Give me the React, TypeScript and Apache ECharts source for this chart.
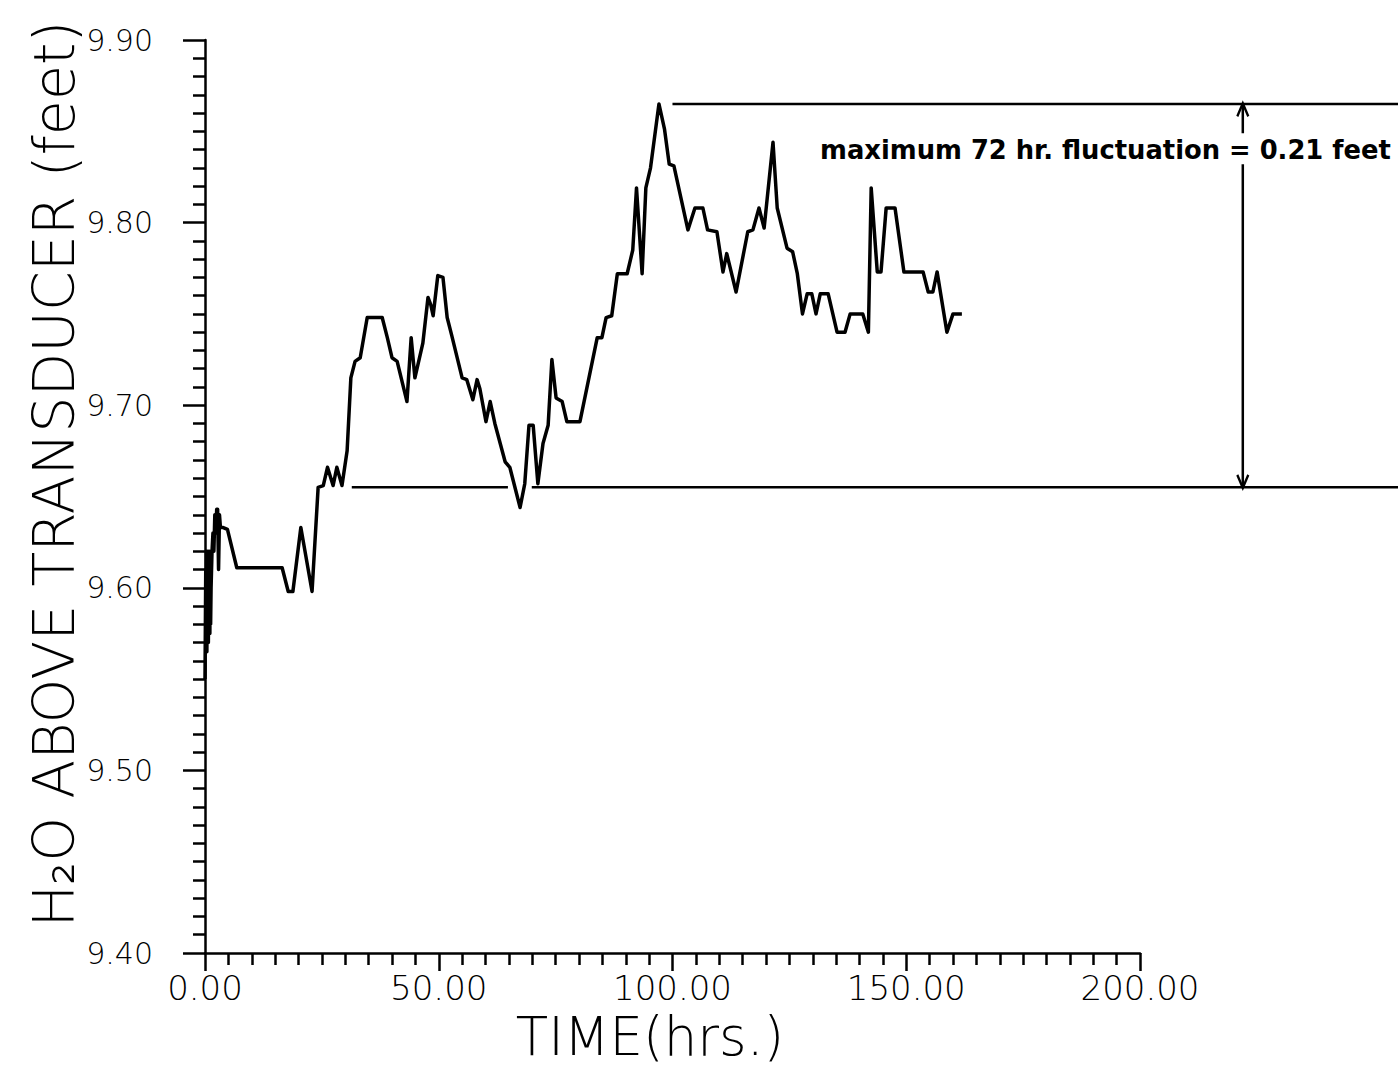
import React, { useEffect, useRef } from "react";
import * as echarts from "echarts";

// Elapsed time since start of record (hours)
const hours = [
  0.0, 0.08, 0.16, 0.24, 0.32, 0.4, 0.48, 0.56, 0.64, 0.72, 0.8, 0.88, 0.96,
  1.04, 1.12, 1.2, 1.3, 1.5, 1.7, 1.9, 2.1, 2.3, 2.5, 2.7, 2.9, 3.1, 3.3, 3.9,
  4.8, 6.8, 16.5, 17.8, 18.8, 20.5, 22.9, 24.2, 25.3, 26.2, 27.4, 28.2, 29.3,
  30.4, 31.2, 32.1, 33.2, 34.7, 37.9, 39.0, 40.0, 41.1, 43.2, 44.1, 44.9, 46.6,
  47.7, 48.3, 48.8, 49.8, 50.9, 51.8, 52.8, 55.0, 56.0, 57.3, 58.2, 58.8, 60.1,
  61.0, 62.0, 64.2, 65.2, 67.4, 68.4, 69.3, 70.2, 71.2, 72.3, 73.4, 74.2, 75.1,
  76.4, 77.4, 80.2, 83.9, 84.9, 85.8, 87.0, 88.2, 90.3, 91.5, 92.3, 93.5, 94.3,
  95.3, 97.1, 98.3, 99.3, 100.3, 103.3, 104.8, 106.5, 107.5, 109.5, 110.8,
  111.6, 113.6, 116.1, 117.2, 118.5, 119.6, 121.5, 122.4, 124.5, 125.7, 126.7,
  127.8, 128.8, 129.8, 130.7, 131.6, 133.3, 135.2, 136.9, 138.0, 140.7, 141.9,
  142.5, 143.8, 144.6, 145.7, 147.6, 149.5, 153.6, 154.7, 155.7, 156.6, 158.7,
  160.0, 161.9,
];

// Water height above the transducer (feet)
const levels = [
  9.55, 9.58, 9.61, 9.57, 9.62, 9.565, 9.6, 9.575, 9.62, 9.57, 9.61, 9.58,
  9.62, 9.575, 9.615, 9.58, 9.6, 9.62, 9.63, 9.62, 9.64, 9.63, 9.643, 9.643,
  9.61, 9.64, 9.633, 9.633, 9.632, 9.611, 9.611, 9.598, 9.598, 9.633, 9.598,
  9.655, 9.656, 9.666, 9.656, 9.666, 9.656, 9.675, 9.715, 9.724, 9.726, 9.748,
  9.748, 9.737, 9.726, 9.724, 9.702, 9.737, 9.715, 9.734, 9.759, 9.755, 9.749,
  9.771, 9.77, 9.748, 9.738, 9.715, 9.714, 9.703, 9.714, 9.709, 9.691, 9.702,
  9.69, 9.669, 9.666, 9.644, 9.657, 9.689, 9.689, 9.657, 9.679, 9.689, 9.725,
  9.704, 9.702, 9.691, 9.691, 9.737, 9.737, 9.748, 9.749, 9.772, 9.772, 9.785,
  9.819, 9.772, 9.819, 9.83, 9.865, 9.851, 9.832, 9.831, 9.796, 9.808, 9.808,
  9.796, 9.795, 9.773, 9.783, 9.762, 9.795, 9.796, 9.808, 9.797, 9.844, 9.808,
  9.786, 9.784, 9.772, 9.75, 9.761, 9.761, 9.75, 9.761, 9.761, 9.74, 9.74,
  9.75, 9.75, 9.74, 9.819, 9.773, 9.773, 9.808, 9.808, 9.773, 9.773, 9.762,
  9.762, 9.773, 9.74, 9.75, 9.75,
];

// Envelope of the largest 72-hour swing
const maxLevel = 9.865;
const minLevel = 9.655;
const upperSpan = [100, 255.2];
const lowerSpans = [
  [31.4, 64.8],
  [69.9, 255.2],
];
const arrowHour = 222;
const labelGap = [9.849, 9.832];

const xTickValues = [0, 50, 100, 150, 200];
const yTickValues = [9.4, 9.5, 9.6, 9.7, 9.8, 9.9];
// The annotation layer shares the time scale but runs on to the page edge
const annotationMaxHour = 255.2;

const FONT = "'DejaVu Sans', 'Liberation Sans', sans-serif";
const INK = "#000";
const CHEVRON = "path://M0,12 L5,0 L10,12";

export default function App() {
  const ref = useRef<HTMLDivElement>(null);

  useEffect(() => {
    const chart = echarts.init(ref.current!, null, { renderer: "svg" });

    const trace = hours.map((h, i) => [h, levels[i]]);
    const onAnnotation = { xAxisIndex: 1, yAxisIndex: 1 };
    const refLine = (x0: number, x1: number, y: number) => ({
      type: "line",
      ...onAnnotation,
      data: [
        [x0, y],
        [x1, y],
      ],
      symbol: "none",
      silent: true,
      lineStyle: { color: INK, width: 2.5 },
    });
    const hiddenAxis = {
      type: "value",
      show: false,
      axisLine: { show: false },
      axisTick: { show: false },
      axisLabel: { show: false },
      splitLine: { show: false },
    };
    const arrowStyle = {
      ...onAnnotation,
      type: "line",
      silent: true,
      lineStyle: { color: INK, width: 2.5 },
      itemStyle: { color: "rgba(0,0,0,0)", borderColor: INK, borderWidth: 2.5 },
      symbolSize: [11, 13],
    };

    chart.setOption({
      animation: false,
      backgroundColor: "#fff",
      grid: [
        { left: 205, right: 258, top: 40, bottom: 116, containLabel: false },
        { left: 205, right: 0, top: 40, bottom: 116, containLabel: false },
      ],
      xAxis: [
        {
          type: "value",
          gridIndex: 0,
          min: xTickValues[0],
          max: xTickValues[xTickValues.length - 1],
          interval: 50,
          axisLine: { show: true, onZero: false, lineStyle: { color: INK, width: 2.5 } },
          axisTick: { show: true, inside: false, length: 18, lineStyle: { color: INK, width: 2.5 } },
          minorTick: { show: true, splitNumber: 10, length: 12, lineStyle: { color: INK, width: 2.5 } },
          splitLine: { show: false },
          minorSplitLine: { show: false },
          axisLabel: {
            show: true,
            margin: 18,
            color: INK,
            fontFamily: FONT,
            fontWeight: 200,
            fontSize: 34,
            formatter: (v: number) => v.toFixed(2),
          },
        },
        { ...hiddenAxis, gridIndex: 1, min: 0, max: annotationMaxHour },
      ],
      yAxis: [
        {
          type: "value",
          gridIndex: 0,
          min: yTickValues[0],
          max: yTickValues[yTickValues.length - 1],
          interval: 0.1,
          axisLine: { show: true, onZero: false, lineStyle: { color: INK, width: 2.5 } },
          axisTick: { show: true, inside: false, length: 22, lineStyle: { color: INK, width: 2.5 } },
          minorTick: { show: true, splitNumber: 10, length: 12, lineStyle: { color: INK, width: 2.5 } },
          splitLine: { show: false },
          minorSplitLine: { show: false },
          axisLabel: {
            show: true,
            margin: 52,
            color: INK,
            fontFamily: FONT,
            fontWeight: 200,
            fontSize: 30,
            formatter: (v: number) => v.toFixed(2),
          },
        },
        {
          ...hiddenAxis,
          gridIndex: 1,
          min: yTickValues[0],
          max: yTickValues[yTickValues.length - 1],
        },
      ],
      series: [
        {
          type: "line",
          xAxisIndex: 0,
          yAxisIndex: 0,
          data: trace,
          symbol: "none",
          lineStyle: { color: INK, width: 3.5, join: "round" },
        },
        refLine(upperSpan[0], upperSpan[1], maxLevel),
        ...lowerSpans.map((s) => refLine(s[0], s[1], minLevel)),
        {
          ...arrowStyle,
          data: [
            { value: [arrowHour, maxLevel], symbol: CHEVRON, symbolOffset: [0, 6] },
            { value: [arrowHour, labelGap[0]], symbol: "none" },
          ],
        },
        {
          ...arrowStyle,
          data: [
            { value: [arrowHour, labelGap[1]], symbol: "none" },
            { value: [arrowHour, minLevel], symbol: CHEVRON, symbolRotate: 180, symbolOffset: [0, -6] },
          ],
        },
      ],
      graphic: [
        {
          type: "text",
          x: 54,
          y: 474,
          rotation: Math.PI / 2,
          silent: true,
          style: {
            text: "H₂O ABOVE TRANSDUCER (feet)",
            fill: INK,
            fontFamily: FONT,
            fontWeight: 200,
            fontSize: 57,
            align: "center",
            verticalAlign: "middle",
          },
        },
        {
          type: "text",
          x: 650,
          y: 1036,
          silent: true,
          style: {
            text: "TIME(hrs.)",
            fill: INK,
            fontFamily: FONT,
            fontWeight: 200,
            fontSize: 53,
            align: "center",
            verticalAlign: "middle",
          },
        },
        {
          type: "text",
          x: 820,
          y: 150,
          silent: true,
          style: {
            text: "maximum 72 hr. fluctuation = 0.21 feet",
            fill: INK,
            fontFamily: FONT,
            fontWeight: "bold",
            fontSize: 25.8,
            align: "left",
            verticalAlign: "middle",
          },
        },
      ],
    });

    return () => chart.dispose();
  }, []);

  return (
    <div
      ref={ref}
      style={{ position: "fixed", left: 0, top: 0, width: 1398, height: 1069, background: "#fff" }}
    />
  );
}
